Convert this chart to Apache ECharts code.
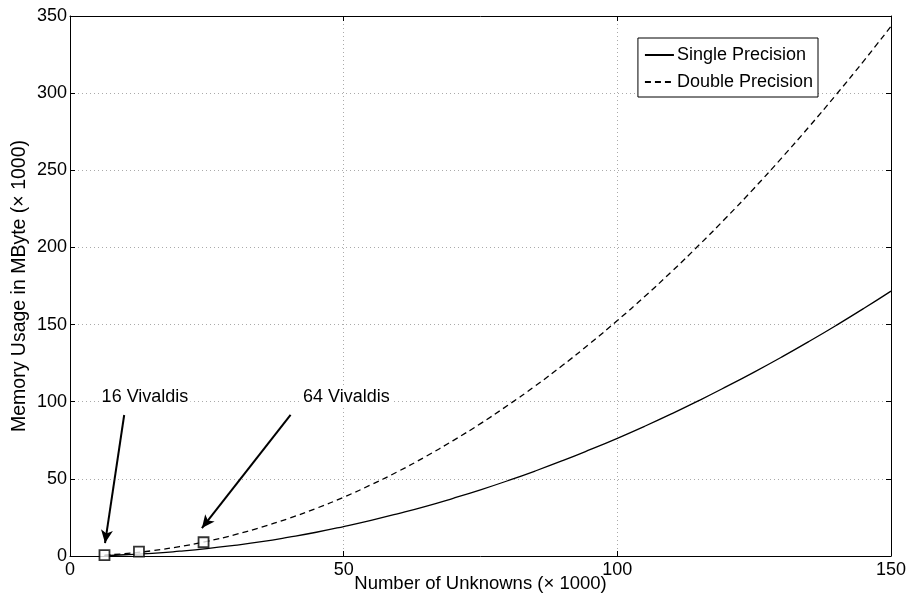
<!DOCTYPE html>
<html>
<head>
<meta charset="utf-8">
<title>Memory Usage</title>
<script src="https://cdn.jsdelivr.net/npm/echarts@6/dist/echarts.min.js"></script>
<style>
    html, body { margin: 0; padding: 0; background: #fff; overflow: hidden; }
    #main { width: 906px; height: 596px; }
</style>
</head>
<body>
<div id="main"></div>
<script>
// number of unknowns (x 1000)
var unknowns = [6.3, 10, 15, 20, 25, 30, 35, 40, 45, 50, 55, 60, 65, 70, 75, 80, 85, 90,
    95, 100, 105, 110, 115, 120, 125, 130, 135, 140, 145, 150];
// memory usage in MByte (x 1000)
var singleMem = [0.3, 0.8, 1.7, 3.1, 4.8, 6.9, 9.3, 12.2, 15.4, 19.1, 23.1, 27.5, 32.2, 37.4,
    42.9, 48.8, 55.1, 61.8, 68.9, 76.3, 84.1, 92.3, 100.9, 109.9, 119.2, 128.9, 139.0, 149.5,
    160.4, 171.7];
var doubleMem = [0.6, 1.5, 3.4, 6.1, 9.5, 13.7, 18.7, 24.4, 30.9, 38.1, 46.2, 54.9, 64.5, 74.8,
    85.8, 97.7, 110.2, 123.6, 137.7, 152.6, 168.2, 184.6, 201.8, 219.7, 238.4, 257.9, 278.1,
    299.1, 320.8, 343.3];
// square markers
var markerX = [6.3, 12.6, 24.4];
var markerY = [0.6, 2.8, 8.9];
// annotations: text, text anchor, arrow start, arrow tip (data coords)
var noteText = ['16 Vivaldis', '64 Vivaldis'];
var noteAt = [[13.7, 103], [50.5, 103]];
var arrowFrom = [[9.9, 91.4], [40.3, 91.4]];
var arrowTo = [[6.4, 8.4], [24.1, 18.1]];

var FONT = "'Liberation Sans', Arial, sans-serif";

function pairs(xs, ys) {
    var out = [];
    for (var i = 0; i < xs.length; i++) {
        out.push([xs[i], ys[i]]);
    }
    return out;
}

var chart = echarts.init(document.getElementById('main'), null, { renderer: 'canvas' });

// shared axis pieces (MATLAB like box with inward ticks)
var tickStyle = { show: true, inside: true, length: 5, lineStyle: { color: '#000', width: 1 } };
var lineStyleBlack = { show: true, onZero: false, lineStyle: { color: '#000', width: 1 } };
var gridLine = { show: true, lineStyle: { color: '#aaa', type: [1, 3], width: 1 } };

var arrowLines = [];
for (var i = 0; i < arrowFrom.length; i++) {
    arrowLines.push([{ coord: arrowFrom[i] }, { coord: arrowTo[i] }]);
}
var notePoints = [];
for (var j = 0; j < noteText.length; j++) {
    notePoints.push({ coord: noteAt[j], value: noteText[j] });
}

var option = {
    backgroundColor: '#fff',
    animation: false,
    textStyle: { fontFamily: FONT },
    // outerBoundsMode none: keep the grid exactly where it is set (v6 otherwise shrinks it)
    grid: { left: 70, right: 15, top: 16, bottom: 40, containLabel: false, outerBoundsMode: 'none' },
    legend: {
        data: ['Single Precision', 'Double Precision'],
        orient: 'vertical',
        right: 88,
        top: 38,
        padding: [8, 5, 6, 6],
        itemGap: 9,
        itemWidth: 29,
        itemHeight: 14,
        backgroundColor: '#fff',
        borderColor: '#000',
        borderWidth: 1,
        borderRadius: 0,
        itemStyle: { opacity: 0, borderWidth: 0 },
        textStyle: { fontSize: 18, color: '#000', fontFamily: FONT, padding: [0, 0, 0, -2] }
    },
    xAxis: [{
        type: 'value',
        min: 0, max: 150, interval: 50,
        name: 'Number of Unknowns (× 1000)',
        nameLocation: 'middle',
        nameGap: 18,
        nameMoveOverlap: false,
        nameTextStyle: { fontSize: 18.5, color: '#000', fontFamily: FONT },
        axisLine: lineStyleBlack,
        axisTick: tickStyle,
        axisLabel: { fontSize: 18, color: '#000', margin: 5, fontFamily: FONT },
        splitLine: gridLine
    }, {
        type: 'value', position: 'top',
        min: 0, max: 150, interval: 50,
        axisLine: lineStyleBlack, axisTick: tickStyle,
        axisLabel: { show: false }, splitLine: { show: false }
    }],
    yAxis: [{
        type: 'value',
        min: 0, max: 350, interval: 50,
        name: 'Memory Usage in MByte (× 1000)',
        nameLocation: 'middle',
        nameGap: 40,
        nameMoveOverlap: false,
        nameTextStyle: { fontSize: 19.5, color: '#000', fontFamily: FONT },
        axisLine: lineStyleBlack,
        axisTick: tickStyle,
        axisLabel: { fontSize: 18, color: '#000', margin: 3, fontFamily: FONT },
        splitLine: gridLine
    }, {
        type: 'value', position: 'right',
        min: 0, max: 350, interval: 50,
        axisLine: lineStyleBlack, axisTick: tickStyle,
        axisLabel: { show: false }, splitLine: { show: false }
    }],
    series: [{
        name: 'Single Precision',
        type: 'line',
        data: pairs(unknowns, singleMem),
        smooth: true,
        symbol: 'none',
        lineStyle: { color: '#000', width: 1.3, type: 'solid' },
        itemStyle: { color: '#000' },
        markLine: {
            silent: true,
            symbol: ['none', 'arrow'],
            symbolSize: [9, 13],
            label: { show: false },
            lineStyle: { color: '#000', width: 2, type: 'solid' },
            data: arrowLines
        },
        markPoint: {
            silent: true,
            symbol: 'circle',
            symbolSize: 0,
            label: {
                show: true,
                formatter: '{c}',
                fontSize: 18,
                color: '#000',
                fontFamily: FONT,
                backgroundColor: '#fff',
                padding: [0, 2],
                position: 'inside'
            },
            data: notePoints
        }
    }, {
        name: 'Double Precision',
        type: 'line',
        data: pairs(unknowns, doubleMem),
        smooth: true,
        symbol: 'none',
        lineStyle: { color: '#000', width: 1.3, type: [6, 4] },
        itemStyle: { color: '#000' }
    }, {
        name: 'Markers',
        type: 'scatter',
        data: pairs(markerX, markerY),
        symbol: 'rect',
        symbolSize: 10,
        itemStyle: { color: '#fff', borderColor: '#000', borderWidth: 1.8 },
        emphasis: { disabled: true },
        z: 5
    }]
};

chart.setOption(option);
</script>
</body>
</html>
